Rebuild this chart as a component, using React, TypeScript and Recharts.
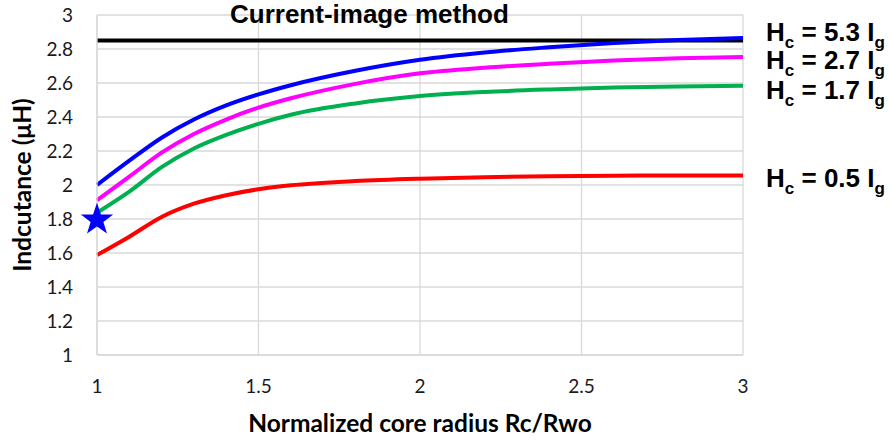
import React from 'react'
import { ComposedChart, Line, XAxis, YAxis, CartesianGrid, ReferenceLine } from 'recharts'

// normalized core radius Rc/Rwo
const radius = [1, 1.1, 1.2, 1.3, 1.4, 1.5, 1.6, 1.8, 2, 2.2, 2.4, 2.6, 2.8, 3]
// inductance (uH) for each core field strength
const hc53 = [2.0, 2.143, 2.278, 2.385, 2.468, 2.533, 2.587, 2.672, 2.737, 2.78, 2.81, 2.835, 2.853, 2.865]
const hc27 = [1.91, 2.049, 2.19, 2.3, 2.385, 2.455, 2.51, 2.595, 2.657, 2.69, 2.713, 2.732, 2.745, 2.753]
const hc17 = [1.837, 1.961, 2.105, 2.215, 2.295, 2.36, 2.413, 2.48, 2.523, 2.547, 2.562, 2.573, 2.58, 2.584]
const hc05 = [1.588, 1.696, 1.812, 1.89, 1.94, 1.975, 1.998, 2.023, 2.037, 2.046, 2.052, 2.055, 2.056, 2.056]
const imageMethod = 2.85
const measured = [{ x: 1, star: 1.795 }]

const xTicks = [1, 1.5, 2, 2.5, 3]
const yTicks = [1, 1.2, 1.4, 1.6, 1.8, 2, 2.2, 2.4, 2.6, 2.8, 3]

const rows = radius.map((x, i) => ({ x, b: hc53[i], m: hc27[i], g: hc17[i], r: hc05[i] }))

const tickFont = { fill: '#1a1a1a', fontSize: 19, fontFamily: 'Lato' }
const labelFont = 'Liberation Sans, Arial, sans-serif'

const YTick = (p: any) => (
  <text x={p.x} y={p.y} dy="0.35em" textAnchor="end" {...tickFont}>
    {p.payload.value}
  </text>
)

const Star = (props: any) => {
  const { cx, cy } = props
  if (cx == null || cy == null) return null
  const pts: string[] = []
  for (let i = 0; i < 10; i++) {
    const rr = i % 2 === 0 ? 17 : 6.7
    const a = -Math.PI / 2 + (i * Math.PI) / 5
    pts.push(`${cx + rr * Math.cos(a)},${cy + rr * Math.sin(a)}`)
  }
  return <polygon key={props.key ?? 'star'} points={pts.join(' ')} fill="#0000ff" />
}

const HcLabel = ({ y, value }: { y: number; value: string }) => (
  <text x={766} y={y} fontFamily={labelFont} fontWeight="bold" fontSize={26} fill="#000">
    H<tspan fontSize={17} dy={7}>c</tspan>
    <tspan dy={-7}>{` = ${value} I`}</tspan>
    <tspan fontSize={17} dy={7}>g</tspan>
  </text>
)

export default function App() {
  return (
    <div style={{ position: 'absolute', left: 0, top: 0, width: 891, height: 442, background: '#fff' }}>
      <ComposedChart width={891} height={442} data={rows} margin={{ top: 15, right: 148, bottom: 37, left: 37 }}>
        <CartesianGrid stroke="#d9d9d9" strokeWidth={1.3} />
        <XAxis
          type="number"
          dataKey="x"
          domain={[1, 3]}
          ticks={xTicks}
          tickLine={false}
          tickSize={0}
          tickMargin={25}
          height={50}
          axisLine={{ stroke: '#d9d9d9', strokeWidth: 1.3 }}
          tick={tickFont}
        />
        <YAxis
          type="number"
          domain={[1, 3]}
          ticks={yTicks}
          tickLine={false}
          tickSize={0}
          tickMargin={24}
          width={60}
          axisLine={{ stroke: '#d9d9d9', strokeWidth: 1.3 }}
          tick={<YTick />}
        />
        <ReferenceLine y={imageMethod} stroke="#000" strokeWidth={4} />
        <Line type="monotone" dataKey="r" stroke="#ff0000" strokeWidth={4} dot={false} isAnimationActive={false} />
        <Line type="monotone" dataKey="g" stroke="#00b050" strokeWidth={4} dot={false} isAnimationActive={false} />
        <Line type="monotone" dataKey="m" stroke="#ff00ff" strokeWidth={4} dot={false} isAnimationActive={false} />
        <Line type="monotone" dataKey="b" stroke="#0000ff" strokeWidth={4} dot={false} isAnimationActive={false} />
        <Line
          data={measured}
          dataKey="star"
          stroke="none"
          dot={(p: any) => <Star {...p} />}
          isAnimationActive={false}
        />
      </ComposedChart>
      <svg width={891} height={442} style={{ position: 'absolute', left: 0, top: 0, pointerEvents: 'none' }}>
        <text x={230} y={23} fontFamily={labelFont} fontWeight="bold" fontSize={26} fill="#000">
          Current-image method
        </text>
        <HcLabel y={41} value="5.3" />
        <HcLabel y={69} value="2.7" />
        <HcLabel y={99} value="1.7" />
        <HcLabel y={187} value="0.5" />
        <text x={420} y={432} textAnchor="middle" fontFamily="Lato" fontWeight="bold" fontSize={24.5} fill="#000">
          Normalized core radius Rc/Rwo
        </text>
        <text
          transform="translate(31,185) rotate(-90)"
          textAnchor="middle"
          fontFamily="Lato"
          fontWeight="bold"
          fontSize={24.5}
          fill="#000"
        >
          Indcutance (μH)
        </text>
      </svg>
    </div>
  )
}
